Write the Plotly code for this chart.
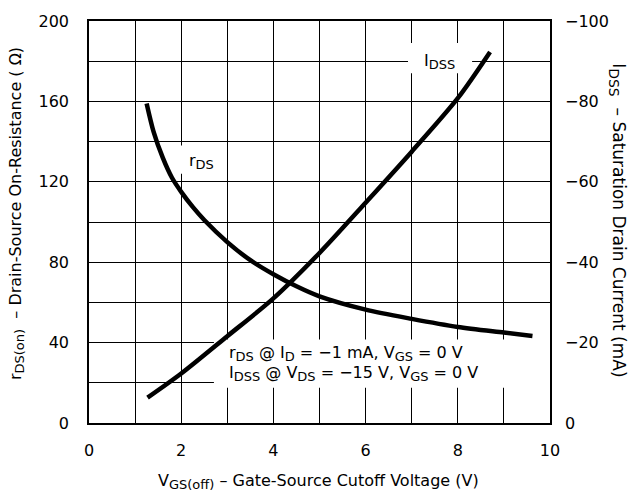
import plotly.graph_objects as go

# rDS(on) vs VGS(off)  (left axis, ohms)
vgs_rds = [1.25, 1.4, 1.6, 1.8, 2.0, 2.25, 2.5, 3.0, 3.5, 4.0, 4.5, 5.0, 6.0, 7.0, 8.0, 9.0, 9.62]
rds = [159, 145, 132, 122, 115, 107.5, 101, 90, 81, 74, 68, 63, 56.4, 51.8, 47.8, 45, 43.3]

# IDSS vs VGS(off)  (right axis, mA, negative)
vgs_idss = [1.27, 2.0, 3.0, 4.0, 5.0, 6.0, 7.0, 8.0, 8.7]
idss = [-6.3, -12.3, -21.6, -31.0, -42.3, -54.8, -67.5, -80.8, -92.3]

x_ticks = [0, 2, 4, 6, 8, 10]
y_ticks = [0, 40, 80, 120, 160, 200]
y2_ticks = [0, -20, -40, -60, -80, -100]
y2_labels = ["0", "\u221220", "\u221240", "\u221260", "\u221280", "\u2212100"]

FONT = "DejaVu Sans, Arial, sans-serif"
FS = 16


def sub(t, size=13):
    return "<sub><span style='font-size:%dpx'>%s</span></sub>" % (size, t)


fig = go.Figure()
fig.add_trace(go.Scatter(x=vgs_rds, y=rds, mode="lines", line=dict(color="black", width=4.5, shape="spline", smoothing=0.8),
                         showlegend=False, yaxis="y"))
fig.add_trace(go.Scatter(x=vgs_idss, y=idss, mode="lines", line=dict(color="black", width=4.5, shape="spline", smoothing=0.8),
                         showlegend=False, yaxis="y2"))

# white label backgrounds (cover grid, under curves)
boxes = [(1.93, 2.98, 124, 138), (6.92, 8.31, 174, 189), (2.71, 10, 17.5, 41.5)]
for x0, x1, y0, y1 in boxes:
    fig.add_shape(type="rect", x0=x0, x1=x1, y0=y0, y1=y1, xref="x", yref="y",
                  fillcolor="white", line=dict(width=0), layer="between")

ann_font = dict(family=FONT, size=FS, color="black")
fig.add_annotation(x=2.43, y=130, xref="x", yref="y", text="r" + sub("DS"), showarrow=False, font=ann_font,
                   xanchor="center", yanchor="middle")
fig.add_annotation(x=7.6, y=180, xref="x", yref="y", text="I" + sub("DSS"), showarrow=False, font=ann_font,
                   xanchor="center", yanchor="middle")
fig.add_annotation(x=2.99, y=34.6, xref="x", yref="y", xanchor="left", yanchor="middle",
                   text="r" + sub("DS") + " @ I" + sub("D") + " = \u22121 mA, V" + sub("GS") + " = 0 V",
                   showarrow=False, font=ann_font)
fig.add_annotation(x=2.99, y=24.4, xref="x", yref="y", xanchor="left", yanchor="middle",
                   text="I" + sub("DSS") + " @ V" + sub("DS") + " = \u221215 V, V" + sub("GS") + " = 0 V",
                   showarrow=False, font=ann_font)

# axis titles
fig.add_annotation(x=0.498, y=-0.146, xref="paper", yref="paper", xanchor="center", yanchor="middle",
                   text="V" + sub("GS(off)") + " \u2013 Gate-Source Cutoff Voltage (V)",
                   showarrow=False, font=ann_font)
fig.add_annotation(x=-0.156, y=0.52, xref="paper", yref="paper", textangle=-90, xanchor="center", yanchor="middle",
                   text="r" + sub("DS(on)") + "\u00a0 \u2013 Drain-Source On-Resistance ( \u03a9)",
                   showarrow=False, font=ann_font)
fig.add_annotation(x=1.145, y=0.505, xref="paper", yref="paper", textangle=90, xanchor="center", yanchor="middle",
                   text="I" + sub("DSS", 14) + "\u00a0 \u2013 Saturation Drain Current (mA)",
                   showarrow=False, font=dict(family=FONT, size=17, color="black"))

fig.update_layout(
    width=628, height=499,
    margin=dict(l=89, r=78, t=13, b=76),
    paper_bgcolor="white", plot_bgcolor="white",
    font=dict(family=FONT, size=FS, color="black"),
    xaxis=dict(range=[0, 10], tickvals=x_ticks, ticks="", ticklabelstandoff=12,
               showgrid=True, gridcolor="black", gridwidth=1,
               minor=dict(dtick=1, showgrid=True, gridcolor="black", gridwidth=1),
               showline=True, linecolor="black", linewidth=1.5, mirror=True, zeroline=False,
               tickfont=dict(size=FS)),
    yaxis=dict(range=[0, 200], tickvals=y_ticks, ticks="", ticklabelstandoff=15,
               showgrid=True, gridcolor="black", gridwidth=1,
               minor=dict(dtick=20, showgrid=True, gridcolor="black", gridwidth=1),
               showline=True, linecolor="black", linewidth=1.5, mirror=True, zeroline=False,
               tickfont=dict(size=FS)),
    yaxis2=dict(range=[0, -100], tickvals=y2_ticks, ticktext=y2_labels, overlaying="y", side="right",
                ticks="", ticklabelstandoff=14, showgrid=False, zeroline=False, showline=False,
                tickfont=dict(size=FS)),
)

fig.write_html("out.html")
